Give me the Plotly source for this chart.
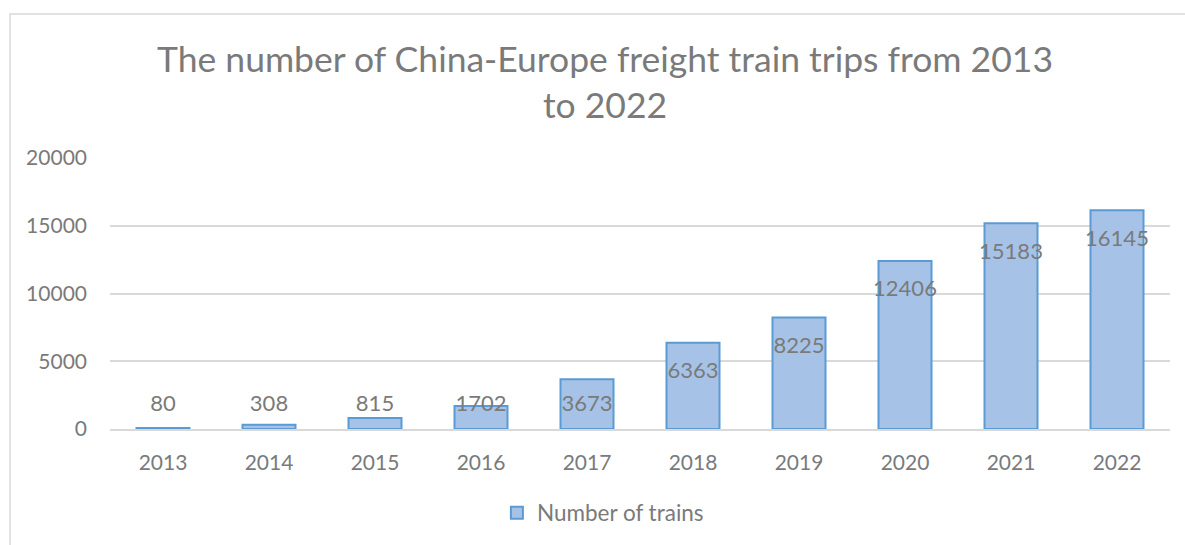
import plotly.graph_objects as go
import numpy as np

years = ["2013", "2014", "2015", "2016", "2017", "2018", "2019", "2020", "2021", "2022"]
trains = [80, 308, 815, 1702, 3673, 6363, 8225, 12406, 15183, 16145]
y_ticks = [0, 5000, 10000, 15000, 20000]
y_tick_labels = ["0", "5000", "10000", "15000", "20000"]

FONT = "Lato"
GREY = "#7a7a7a"

W, H = 1185, 545
ML, MR, MT, MB = 110, 15, 158, 116
plot_h = H - MT - MB
plot_w = W - ML - MR
y_max = 20000
px_unit = y_max / plot_h

vals = np.array(trains, dtype=float)
label_y = np.maximum(vals - 30 * px_unit, 24 * px_unit)

fig = go.Figure()
fig.add_trace(go.Bar(
    x=years, y=trains, name="Number of trains", width=0.5,
    marker=dict(color="#a6c3e7", line=dict(color="#5b9bd5", width=2)),
    hoverinfo="x+y",
))
fig.add_trace(go.Scatter(
    x=years, y=label_y, text=[str(v) for v in trains], mode="text",
    textposition="middle center", showlegend=False,
    textfont=dict(family=FONT, size=22, color=GREY), hoverinfo="skip",
))

fig.add_shape(type="rect", xref="paper", yref="paper",
              x0=(10 - ML) / plot_w, x1=(W + 20 - ML) / plot_w,
              y0=-(H + 20 - (H - MB)) / plot_h, y1=((H - MB) - 14) / plot_h,
              line=dict(color="#d9d9d9", width=1.5), fillcolor="rgba(0,0,0,0)", layer="below")

fig.update_layout(
    width=W, height=H,
    margin=dict(l=ML, r=MR, t=MT, b=MB, autoexpand=False),
    paper_bgcolor="white", plot_bgcolor="white",
    font=dict(family=FONT, color=GREY, size=20),
    title=dict(text="The number of China-Europe freight train trips from 2013<br>to 2022",
               x=605 / W, xanchor="center", y=1 - 72 / H, yanchor="middle",
               font=dict(family=FONT, size=35.5, color=GREY)),
    xaxis=dict(showgrid=False, showline=True, linecolor="#d9d9d9", linewidth=1.5,
               ticks="", tickfont=dict(size=21, color=GREY), ticklabelstandoff=14,
               automargin=False),
    yaxis=dict(range=[0, y_max], tickvals=y_ticks, ticktext=y_tick_labels,
               showgrid=True, gridcolor="#d9d9d9",
               gridwidth=1.5, zeroline=False, showline=False, ticks="",
               tickfont=dict(size=21, color=GREY), ticklabelstandoff=22,
               automargin=False),
    legend=dict(orientation="h", x=0.465, xanchor="center", y=-(513 - (H - MB)) / plot_h,
                yanchor="middle", font=dict(size=22.5, color=GREY)),
    bargap=0.5,
)

fig.write_html("out.html", config={"displayModeBar": False},
               post_script="document.body.style.margin='0';document.body.style.overflow='hidden';")
